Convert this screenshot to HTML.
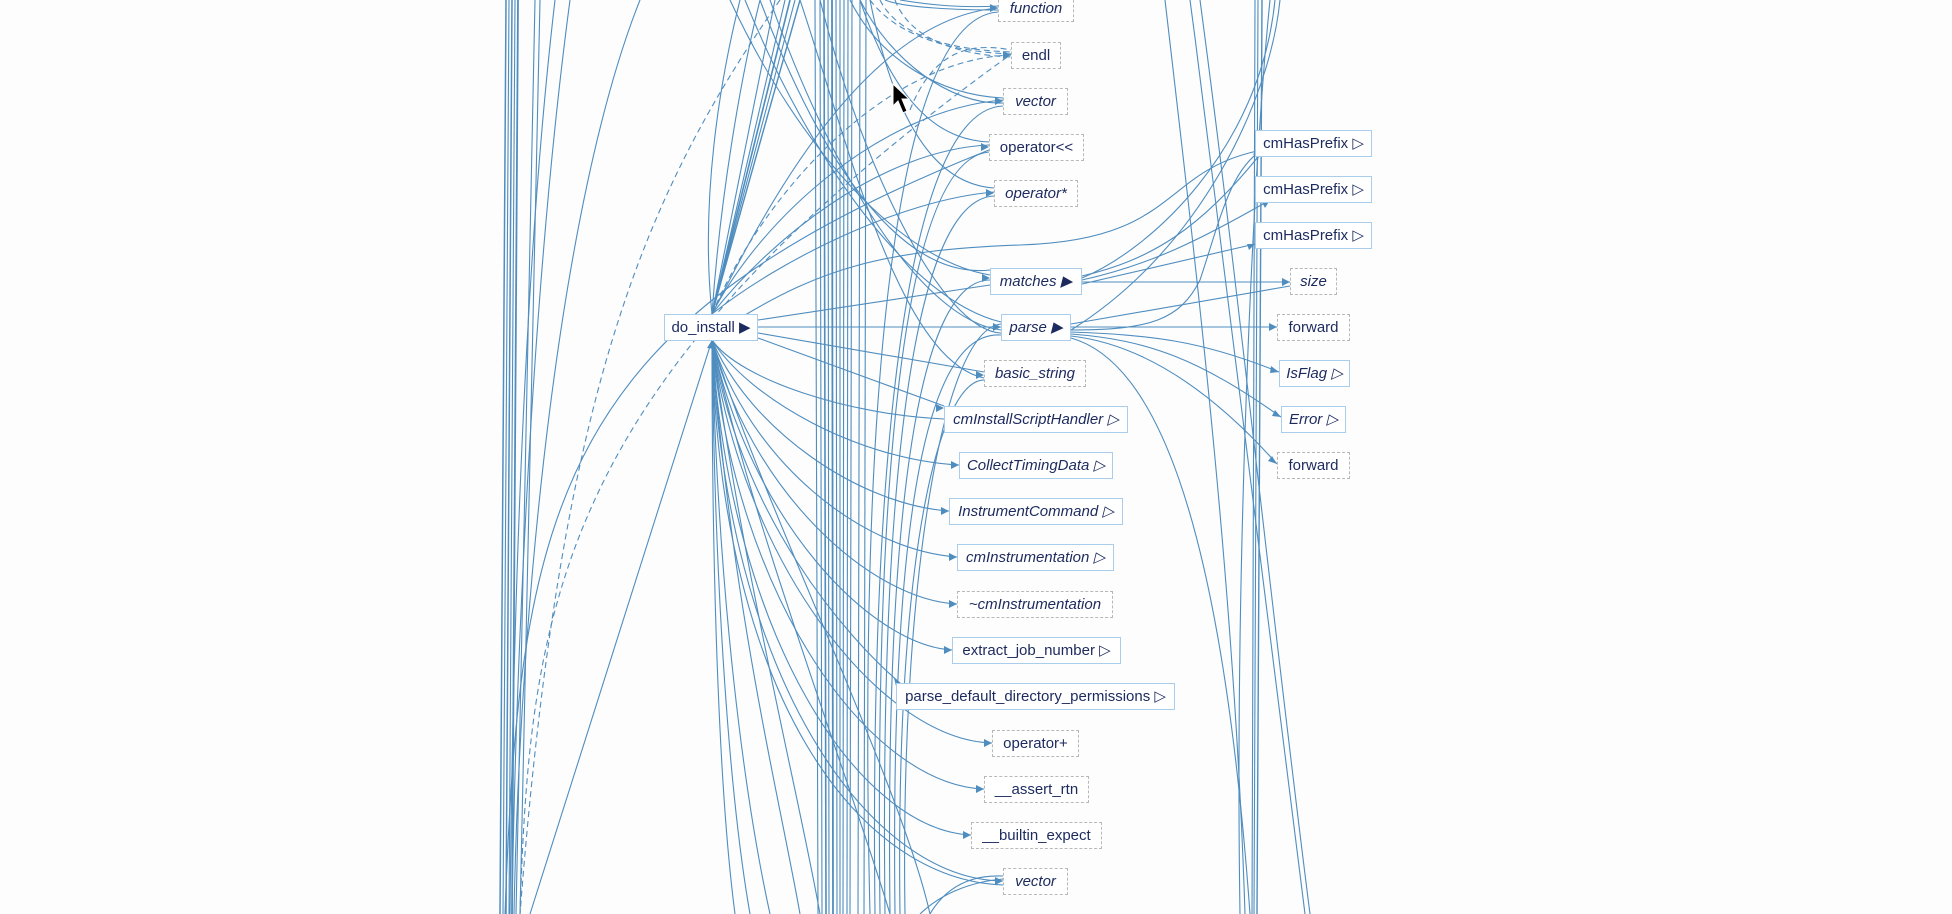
<!DOCTYPE html>
<html><head><meta charset="utf-8"><style>
html,body{margin:0;padding:0;background:#fdfdfd;}
#w{position:relative;width:1952px;height:914px;overflow:hidden;background:#fdfdfd;}
svg{position:absolute;left:0;top:0;}
.n{position:absolute;box-sizing:border-box;height:27px;line-height:25px;text-align:center;font-family:"Liberation Sans",sans-serif;font-size:15px;color:#1c2a5e;background:#fff;white-space:nowrap;}
.s{border:1.5px solid #a9cdea;}
.d{border:1px dashed #b8b8b8;}
.i{font-style:italic;}
</style></head><body><div id="w">
<svg width="1952" height="914" viewBox="0 0 1952 914" fill="none" stroke="#4f8dbf" stroke-width="1.1">
<g>
<path d="M506,0 L500,914" stroke-width="1.5"/><path d="M509,0 L503,914"/><path d="M512,0 L506,914" stroke-width="1.5"/><path d="M515,0 L509,914"/><path d="M518,0 L512,914" stroke-width="1.8"/>
<path d="M535,0 L516,914"/><path d="M540,0 L520,914"/><path d="M555,0 C520,300 512,700 510,914"/>
<path d="M570,0 C530,300 515,700 512,914"/>
<path d="M640,0 C560,200 520,600 514,914"/>
<path d="M780,0 C640,200 560,400 520,914" stroke-dasharray="6,4"/>
<path d="M520,914 C530,600 560,380 1010,55" stroke-dasharray="6,4"/>
<path d="M505,914 C520,500 560,320 989,150"/>
<path d="M530,914 L712,340"/>
<path d="M815,0 L818,914"/><path d="M820,0 L822,914"/><path d="M824,0 L826,914" stroke-width="1.6"/><path d="M828,0 L829,914"/>
<path d="M832,0 L833,914" stroke-width="1.8"/><path d="M836,0 L837,914"/><path d="M840,0 L840,914"/><path d="M844,0 L843,914"/><path d="M848,0 L847,914"/><path d="M852,0 L850,914"/>
<path d="M860,0 L858,914"/><path d="M866,0 L864,914"/>
<path d="M712,314 L790,0" stroke-width="1.6"/><path d="M712,314 L795,0"/><path d="M712,314 L800,0" stroke-width="1.4"/><path d="M712,314 L785,0"/><path d="M712,314 L775,0"/>
<path d="M712,314 C720,200 740,80 760,0"/><path d="M712,314 C700,200 720,80 740,0"/>
<path d="M712,314 C760,220 860,20 998,8"/>
<path d="M712,314 C760,200 880,60 1011,55" stroke-dasharray="6,4"/>
<path d="M712,314 C760,220 880,110 1003,100"/>
<path d="M712,314 C770,240 880,150 989,145"/>
<path d="M712,314 C780,260 900,200 994,192"/>
<path d="M740,318 C820,270 880,250 1020,245 C1180,240 1160,170 1262,150"/>
<path d="M758,320 L990,285"/><path d="M758,327 L1001,327"/><path d="M1071,327 L1277,327"/>
<path d="M758,333 L984,372"/><path d="M758,338 L944,406"/>
<path d="M712,340 C740,380 850,415 944,419"/>
<path d="M712,340 C750,400 860,460 959,465"/>
<path d="M712,340 C750,430 860,505 949,511"/>
<path d="M712,340 C750,460 860,550 957,557"/>
<path d="M712,340 C750,490 870,600 957,604"/>
<path d="M712,340 C750,520 870,645 952,650"/>
<path d="M712,340 C740,520 850,640 900,683"/>
<path d="M712,340 C740,560 880,740 992,743"/>
<path d="M712,340 C735,600 870,785 984,789"/>
<path d="M712,340 C730,640 860,830 971,835"/>
<path d="M712,340 C725,680 870,880 1003,881"/>
<path d="M712,340 C720,700 860,880 1003,885"/>
<path d="M712,340 C715,600 730,800 750,914"/><path d="M712,340 C712,600 720,800 735,914"/><path d="M712,340 C718,600 745,800 770,914"/>
<path d="M712,340 C730,600 780,800 800,914"/><path d="M712,340 C740,560 800,800 820,914"/>
<path d="M712,340 C750,520 850,780 890,914"/><path d="M712,340 C760,500 900,780 930,914"/>
<path d="M730,0 C800,150 900,260 990,275"/>
<path d="M745,0 C810,160 910,300 1001,322"/>
<path d="M760,0 C820,160 900,280 990,270"/>
<path d="M770,0 C830,170 920,320 1001,330"/>
<path d="M820,0 C860,160 940,330 1001,333"/>
<path d="M800,0 C850,150 900,360 984,378"/>
<path d="M850,0 C880,60 940,95 1003,98"/><path d="M860,0 C890,60 950,105 1003,103"/>
<path d="M860,0 C900,120 950,140 989,142"/><path d="M870,0 C900,150 950,185 994,188"/>
<path d="M880,0 C900,40 960,50 1011,52" stroke-dasharray="6,4"/><path d="M895,0 C910,40 960,55 1011,57" stroke-dasharray="6,4"/>
<path d="M870,0 C900,40 960,52 1011,54" stroke-dasharray="6,4"/>
<path d="M885,0 C905,8 960,10 998,10"/><path d="M900,0 C930,5 960,8 998,6"/>
<path d="M870,914 C860,500 880,20 998,12"/>
<path d="M875,914 C870,500 900,110 1003,106"/>
<path d="M880,914 C875,500 900,160 989,152"/>
<path d="M885,914 C880,500 910,200 994,196"/>
<path d="M890,914 C885,500 920,280 990,280"/>
<path d="M895,914 C890,500 930,330 1001,335"/>
<path d="M900,914 C895,550 940,380 984,380"/>
<path d="M905,914 C900,600 940,330 1001,324"/>
<path d="M930,914 C950,880 980,875 1003,876"/>
<path d="M920,914 C950,885 990,880 1003,879"/>
<path d="M910,110 C930,60 960,40 1011,50" stroke-dasharray="6,4"/>
<path d="M1082,276 C1150,260 1200,230 1262,152"/>
<path d="M1082,280 C1150,265 1200,240 1270,200"/>
<path d="M1082,284 L1255,244"/>
<path d="M1082,282 L1290,282"/>
<path d="M1071,324 L1290,286"/>
<path d="M1071,330 C1150,330 1180,320 1200,280 C1220,220 1230,170 1262,150"/>
<path d="M1071,332 C1150,335 1200,340 1279,372"/>
<path d="M1071,334 C1150,340 1200,360 1281,417"/>
<path d="M1071,336 C1150,345 1220,400 1277,464"/>
<path d="M1071,338 C1150,360 1220,500 1250,914"/>
<path d="M1255,0 L1252,914"/><path d="M1258,0 L1254,914"/><path d="M1262,0 L1257,914" stroke-width="1.4"/>
<path d="M1270,0 C1250,200 1235,600 1240,914"/>
<path d="M1200,0 C1240,300 1270,600 1310,914"/><path d="M1190,0 C1230,300 1265,600 1305,914"/>
<path d="M1165,0 C1200,300 1235,600 1245,914"/>
<path d="M1280,0 C1270,100 1200,250 1071,330"/>
<path d="M1275,0 C1260,150 1150,250 1082,278"/>
</g>
<g fill="#4f8dbf" stroke="none">
<polygon points="998,8 990,4 990,12"/><polygon points="1011,55 1003,51 1003,59"/><polygon points="1003,101 995,97 995,105"/>
<polygon points="989,147 981,143 981,151"/><polygon points="994,193 986,189 986,197"/><polygon points="990,278 982,274 982,282"/>
<polygon points="1001,327 993,323 993,331"/><polygon points="984,375 976,371 976,379"/><polygon points="944,408 936,404 936,412"/>
<polygon points="959,465 951,461 951,469"/><polygon points="949,511 941,507 941,515"/><polygon points="957,557 949,553 949,561"/>
<polygon points="957,604 949,600 949,608"/><polygon points="952,650 944,646 944,654"/><polygon points="902,684 894,678 896,686"/>
<polygon points="992,743 984,739 984,747"/><polygon points="984,789 976,785 976,793"/><polygon points="971,835 963,831 963,839"/>
<polygon points="1003,881 995,877 995,885"/><polygon points="712,340 707,348 715,349"/>
<polygon points="1262,150 1253,154 1258,159"/><polygon points="1270,200 1262,202 1265,208"/><polygon points="1255,244 1247,244 1249,250"/>
<polygon points="1290,282 1282,278 1282,286"/><polygon points="1277,327 1269,323 1269,331"/><polygon points="1279,372 1271,366 1270,373"/>
<polygon points="1281,417 1275,410 1272,416"/><polygon points="1277,464 1272,456 1268,461"/>
</g>
<polygon points="893,84 893,106 898,101 903,113 907,111 902,99 909,99" fill="#000" stroke="#fff" stroke-width="1"/>
</svg>
<div class="n d i" style="left:998px;top:-5px;width:76px;">function</div>
<div class="n d" style="left:1011px;top:42px;width:50px;">endl</div>
<div class="n d i" style="left:1003px;top:88px;width:65px;">vector</div>
<div class="n d" style="left:989px;top:134px;width:95px;">operator&lt;&lt;</div>
<div class="n d i" style="left:994px;top:180px;width:84px;">operator*</div>
<div class="n s i" style="left:990px;top:268px;width:92px;">matches ▶</div>
<div class="n s i" style="left:1001px;top:314px;width:70px;">parse ▶</div>
<div class="n d i" style="left:984px;top:360px;width:102px;">basic_string</div>
<div class="n s i" style="left:944px;top:406px;width:184px;">cmInstallScriptHandler ▷</div>
<div class="n s i" style="left:959px;top:452px;width:154px;">CollectTimingData ▷</div>
<div class="n s i" style="left:949px;top:498px;width:174px;">InstrumentCommand ▷</div>
<div class="n s i" style="left:957px;top:544px;width:157px;">cmInstrumentation ▷</div>
<div class="n d i" style="left:957px;top:591px;width:156px;">~cmInstrumentation</div>
<div class="n s" style="left:952px;top:637px;width:169px;">extract_job_number ▷</div>
<div class="n s" style="left:896px;top:683px;width:279px;">parse_default_directory_permissions ▷</div>
<div class="n d" style="left:992px;top:730px;width:87px;">operator+</div>
<div class="n d" style="left:984px;top:776px;width:105px;">__assert_rtn</div>
<div class="n d" style="left:971px;top:822px;width:131px;">__builtin_expect</div>
<div class="n d i" style="left:1003px;top:868px;width:65px;">vector</div>
<div class="n s" style="left:664px;top:314px;width:94px;">do_install ▶</div>
<div class="n s" style="left:1255px;top:130px;width:117px;">cmHasPrefix ▷</div>
<div class="n s" style="left:1255px;top:176px;width:117px;">cmHasPrefix ▷</div>
<div class="n s" style="left:1255px;top:222px;width:117px;">cmHasPrefix ▷</div>
<div class="n d i" style="left:1290px;top:268px;width:47px;">size</div>
<div class="n d" style="left:1277px;top:314px;width:73px;">forward</div>
<div class="n s i" style="left:1279px;top:360px;width:71px;">IsFlag ▷</div>
<div class="n s i" style="left:1281px;top:406px;width:65px;">Error ▷</div>
<div class="n d" style="left:1277px;top:452px;width:73px;">forward</div>
</div></body></html>
